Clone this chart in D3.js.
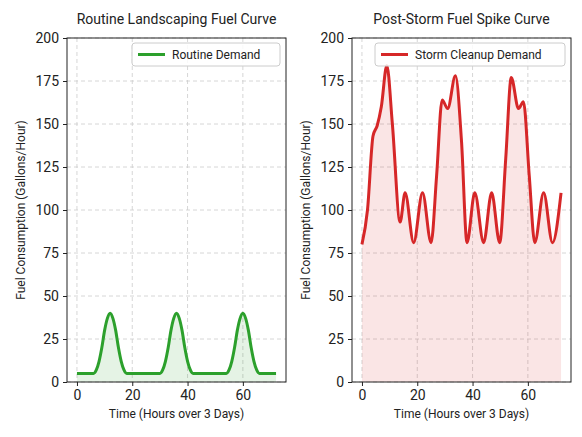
<!DOCTYPE html>
<html><head><meta charset="utf-8">
<script src="https://cdn.jsdelivr.net/npm/d3@7"></script>
<style>body{margin:0;background:#fff}text{font-family:Roboto,"Open Sans",sans-serif;fill:#222}</style>
</head><body><svg id="c" width="582" height="437"></svg>
<script>
// routine demand (hour, gallons/hour)
const routineHours = [0,6,7,8,9,10,11,12,13,14,15,16,17,18,30,31,32,33,34,35,36,37,38,39,40,41,42,54,55,56,57,58,59,60,61,62,63,64,65,66,72];
const routineValues = [5,5,7,12,20,30,37,40,37,30,20,12,7,5,5,7,12,20,30,37,40,37,30,20,12,7,5,5,7,12,20,30,37,40,37,30,20,12,7,5,5];
// storm cleanup demand
const stormHours = [0,2,4,5.5,7,9,11,13.8,15.6,18.7,21.9,25,27,29,31,33.8,36,38,40.8,44,46.9,49.8,52,54,56.6,58.4,60.5,62.5,65.7,68.9,72];
const stormValues = [80,100,143,149,160,184,150,93,110,81,110,81,120,164,159,178,140,81,110,81,110,81,130,177,159,163,120,81,110,81,110];
const yTicks = [0,25,50,75,100,125,150,175,200];
const xTicks = [0,20,40,60];

const svg = d3.select('#c');
const panels = [
  {left:67, title:'Routine Landscaping Fuel Curve', label:'Routine Demand', hours:routineHours, values:routineValues, color:'#2ca02c', fill:'rgba(44,160,44,0.12)', legendW:148},
  {left:352, title:'Post-Storm Fuel Spike Curve', label:'Storm Cleanup Demand', hours:stormHours, values:stormValues, color:'#d62728', fill:'rgba(214,39,40,0.12)', legendW:190}
];
const plotTop = 38, plotBottom = 382, w = 219;

panels.forEach(p => {
  const x = d3.scaleLinear().domain([-3.6,75.6]).range([p.left, p.left+w]);
  const y = d3.scaleLinear().domain([0,200]).range([plotBottom, plotTop]);
  const g = svg.append('g');
  // grid
  g.selectAll('.gx').data(xTicks).enter().append('line')
    .attr('x1', d=>x(d)).attr('x2', d=>x(d)).attr('y1', plotTop).attr('y2', plotBottom)
    .attr('stroke', '#ccc').attr('stroke-dasharray', '4,3').attr('stroke-width', 0.8);
  g.selectAll('.gy').data(yTicks).enter().append('line')
    .attr('x1', p.left).attr('x2', p.left+w).attr('y1', d=>y(d)).attr('y2', d=>y(d))
    .attr('stroke', '#ccc').attr('stroke-dasharray', '4,3').attr('stroke-width', 0.8);
  const pts = p.hours.map((h,i)=>[h, p.values[i]]);
  g.append('path').datum(pts)
    .attr('d', d3.area().x(d=>x(d[0])).y0(y(0)).y1(d=>y(d[1])).curve(d3.curveMonotoneX))
    .attr('fill', p.fill);
  g.append('path').datum(pts)
    .attr('d', d3.line().x(d=>x(d[0])).y(d=>y(d[1])).curve(d3.curveMonotoneX))
    .attr('fill', 'none').attr('stroke', p.color).attr('stroke-width', 3);
  g.append('rect').attr('x', p.left).attr('y', plotTop).attr('width', w).attr('height', plotBottom-plotTop)
    .attr('fill', 'none').attr('stroke', '#222').attr('stroke-width', 1);
  const xa = g.append('g').attr('transform', `translate(0,${plotBottom})`)
    .call(d3.axisBottom(x).tickValues(xTicks).tickSize(4).tickPadding(4));
  const ya = g.append('g').attr('transform', `translate(${p.left},0)`)
    .call(d3.axisLeft(y).tickValues(yTicks).tickSize(4).tickPadding(4));
  [xa, ya].forEach(a => { a.select('.domain').remove(); a.selectAll('text').style('font-size','14px').attr('fill','#222'); a.selectAll('line').attr('stroke','#222'); });
  g.append('text').attr('x', p.left+w/2).attr('y', 24).attr('text-anchor','middle').style('font-size','14px').text(p.title);
  g.append('text').attr('x', p.left+w/2).attr('y', 418).attr('text-anchor','middle').style('font-size','12px').text('Time (Hours over 3 Days)');
  g.append('text').attr('transform', `translate(${p.left-42},${(plotTop+plotBottom)/2}) rotate(-90)`).attr('text-anchor','middle').style('font-size','12px').text('Fuel Consumption (Gallons/Hour)');
  // legend
  const lx = p.left+w-6-p.legendW;
  g.append('rect').attr('x', lx).attr('y', 43).attr('width', p.legendW).attr('height', 23).attr('rx', 3)
    .attr('fill', 'rgba(255,255,255,0.85)').attr('stroke', '#ccc');
  g.append('line').attr('x1', lx+6).attr('x2', lx+33).attr('y1', 54.5).attr('y2', 54.5).attr('stroke', p.color).attr('stroke-width', 3);
  g.append('text').attr('x', lx+40).attr('y', 59).style('font-size','12px').text(p.label);
});
</script></body></html>
